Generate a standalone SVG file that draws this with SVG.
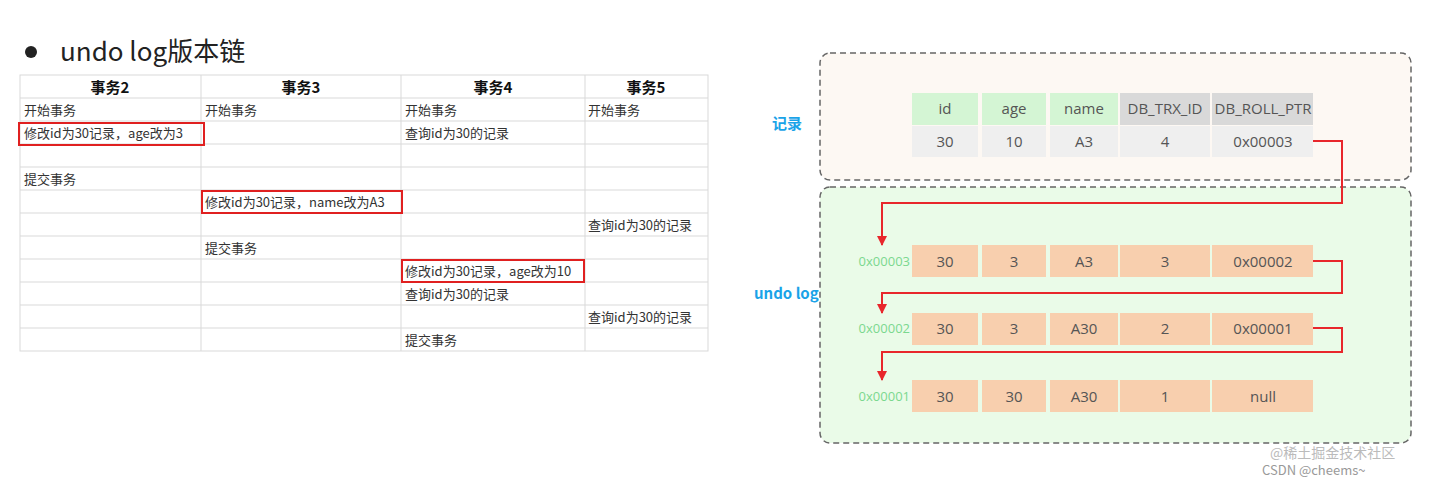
<svg xmlns="http://www.w3.org/2000/svg" width="1432" height="481" viewBox="0 0 1432 481">
<style>
text{font-family:"Noto Sans CJK SC","Liberation Sans",sans-serif}
.t{font-size:13px;fill:#333}
.h{font-size:15px;font-weight:bold;fill:#111;text-anchor:middle}
.g{stroke:#d9d9d9;stroke-width:1;fill:none}
.rb{fill:none;stroke:#e02020;stroke-width:2}
.c{font-size:15px;fill:#555;text-anchor:middle;font-family:"Open Sans","Liberation Sans",sans-serif}
.a{font-size:13px;fill:#7bd88f;text-anchor:end;font-family:"Open Sans","Liberation Sans",sans-serif}
.cn{fill:none;stroke:#e8262b;stroke-width:2}
.lb{font-size:15px;font-weight:bold;fill:#1aa3e8}
</style>
<defs><marker id="ar" viewBox="0 0 10 10" refX="9" refY="5" markerWidth="5" markerHeight="5" orient="auto"><path d="M0,0L10,5L0,10z" fill="#e8262b"/></marker></defs>
<rect width="1432" height="481" fill="#fff"/>
<g id="title"><circle cx="31" cy="52" r="6" fill="#222"/><text x="60" y="61" font-size="26" fill="#222">undo log版本链</text></g>
<g id="table">
<g class="g">
<rect x="20" y="75" width="688" height="276"/>
<path d="M20 98H708M20 121H708M20 144H708M20 167H708M20 190H708M20 213H708M20 236H708M20 259H708M20 282H708M20 305H708M20 328H708M201 75V351M401 75V351M585 75V351"/>
</g>
<text class="h" x="110" y="93">事务2</text><text class="h" x="301" y="93">事务3</text><text class="h" x="493" y="93">事务4</text><text class="h" x="646" y="93">事务5</text>
<text class="t" x="24" y="115">开始事务</text><text class="t" x="205" y="115">开始事务</text><text class="t" x="405" y="115">开始事务</text><text class="t" x="588" y="115">开始事务</text>
<text class="t" x="24" y="138">修改id为30记录，age改为3</text><text class="t" x="405" y="138">查询id为30的记录</text>
<text class="t" x="24" y="184">提交事务</text>
<text class="t" x="205" y="207">修改id为30记录，name改为A3</text>
<text class="t" x="588" y="230">查询id为30的记录</text>
<text class="t" x="205" y="253">提交事务</text>
<text class="t" x="405" y="276">修改id为30记录，age改为10</text>
<text class="t" x="405" y="299">查询id为30的记录</text>
<text class="t" x="588" y="322">查询id为30的记录</text>
<text class="t" x="405" y="345">提交事务</text>
<rect class="rb" x="19" y="123" width="185" height="22"/>
<rect class="rb" x="202" y="191" width="200" height="22"/>
<rect class="rb" x="402" y="260" width="182" height="22"/>
</g>
<g id="recordBox"><rect x="820" y="53" width="591" height="127" rx="10" fill="#fdf8f3" stroke="#666" stroke-dasharray="6,4" stroke-width="1.5"/>
<text class="lb" x="772" y="129">记录</text>
<g fill="#d4f5d4"><rect x="912" y="93" width="66" height="32"/><rect x="982" y="93" width="64" height="32"/><rect x="1050" y="93" width="68" height="32"/></g>
<g fill="#d9d9d9"><rect x="1120" y="93" width="90" height="32"/><rect x="1212" y="93" width="101" height="32"/></g>
<g fill="#efefef"><rect x="912" y="126" width="66" height="31"/><rect x="982" y="126" width="64" height="31"/><rect x="1050" y="126" width="68" height="31"/><rect x="1120" y="126" width="90" height="31"/><rect x="1212" y="126" width="101" height="31"/></g>
<text class="c" x="945" y="114">id</text><text class="c" x="1014" y="114">age</text><text class="c" x="1084" y="114">name</text><text class="c" x="1165" y="114" font-size="14">DB_TRX_ID</text><text class="c" x="1263" y="114" font-size="14">DB_ROLL_PTR</text>
<text class="c" x="945" y="147">30</text><text class="c" x="1014" y="147">10</text><text class="c" x="1084" y="147">A3</text><text class="c" x="1165" y="147">4</text><text class="c" x="1263" y="147">0x00003</text>
</g>
<g id="undoBox"><rect x="820" y="187" width="591" height="256" rx="10" fill="#eafbe8" stroke="#666" stroke-dasharray="6,4" stroke-width="1.5"/>
<text class="lb" x="754" y="299">undo log</text></g>
<g id="undo1"><g fill="#f8cfae"><rect x="912" y="245" width="66" height="32"/><rect x="982" y="245" width="64" height="32"/><rect x="1050" y="245" width="68" height="32"/><rect x="1120" y="245" width="90" height="32"/><rect x="1212" y="245" width="101" height="32"/></g>
<text class="a" x="910" y="266">0x00003</text><text class="c" x="945" y="267">30</text><text class="c" x="1014" y="267">3</text><text class="c" x="1084" y="267">A3</text><text class="c" x="1165" y="267">3</text><text class="c" x="1263" y="267">0x00002</text></g>
<g id="undo2"><g fill="#f8cfae"><rect x="912" y="313" width="66" height="32"/><rect x="982" y="313" width="64" height="32"/><rect x="1050" y="313" width="68" height="32"/><rect x="1120" y="313" width="90" height="32"/><rect x="1212" y="313" width="101" height="32"/></g>
<text class="a" x="910" y="333">0x00002</text><text class="c" x="945" y="334">30</text><text class="c" x="1014" y="334">3</text><text class="c" x="1084" y="334">A30</text><text class="c" x="1165" y="334">2</text><text class="c" x="1263" y="334">0x00001</text></g>
<g id="undo3"><g fill="#f8cfae"><rect x="912" y="380" width="66" height="32"/><rect x="982" y="380" width="64" height="32"/><rect x="1050" y="380" width="68" height="32"/><rect x="1120" y="380" width="90" height="32"/><rect x="1212" y="380" width="101" height="32"/></g>
<text class="a" x="910" y="401">0x00001</text><text class="c" x="945" y="402">30</text><text class="c" x="1014" y="402">30</text><text class="c" x="1084" y="402">A30</text><text class="c" x="1165" y="402">1</text><text class="c" x="1263" y="402">null</text></g>
<g id="connectors">
<path class="cn" marker-end="url(#ar)" d="M1313 141H1342V203H882V245"/>
<path class="cn" marker-end="url(#ar)" d="M1313 261H1342V293H882V313"/>
<path class="cn" marker-end="url(#ar)" d="M1313 328H1342V352H882V380"/>
</g>
<g id="watermark"><text x="1270" y="458" font-size="14" fill="#bbb">@稀土掘金技术社区</text><text x="1262" y="475" font-size="13" fill="#999">CSDN @cheems~</text></g>
</svg>
